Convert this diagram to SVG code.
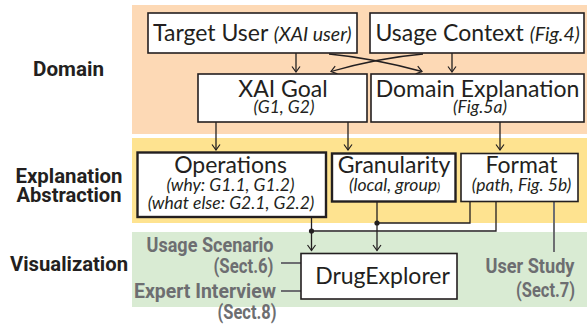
<svg xmlns="http://www.w3.org/2000/svg" width="587" height="324" viewBox="0 0 587 324">
  <defs>
    <marker id="vhead" viewBox="-7 -5 8 10" markerWidth="8" markerHeight="10" refX="0" refY="0" orient="auto" markerUnits="userSpaceOnUse">
      <path d="M-5.5,-4 L0,0 L-5.5,4" fill="none" stroke="#231f20" stroke-width="1.2"/>
    </marker>
  </defs>
  <style>
    .box { fill: #ffffff; stroke: #231f20; stroke-width: 1.6; }
    .box-thick { fill: #ffffff; stroke: #231f20; stroke-width: 2.4; }
    .t { font-family: Lato, "Open Sans", "Liberation Sans", sans-serif; font-size: 23px; fill: #231f20; text-anchor: middle; }
    .ti { font-family: Lato, "Open Sans", "Liberation Sans", sans-serif; font-style: italic; font-size: 17.5px; fill: #231f20; text-anchor: middle; }
    .layer { font-family: Roboto, "Liberation Sans", sans-serif; font-weight: bold; font-size: 20px; fill: #231f20; text-anchor: middle; }
    .eval { font-family: Roboto, "Liberation Sans", sans-serif; font-weight: bold; font-size: 20.5px; fill: #6d6e71; text-anchor: end; }
    .link { fill: none; stroke: #231f20; stroke-width: 1.3; }
    .arrow { fill: none; stroke: #231f20; stroke-width: 1.3; marker-end: url(#vhead); }
    .glink { fill: none; stroke: #6d6e71; stroke-width: 2; }
    .dot { fill: #231f20; }
    .gdot { fill: #6d6e71; }
  </style>

  <!-- layer bands -->
  <rect x="132" y="5" width="455" height="129" fill="#fdd9b5"/>
  <rect x="132" y="138" width="455" height="85" fill="#fee390"/>
  <rect x="132" y="232" width="455" height="75" fill="#d9ebd3"/>

  <!-- layer labels -->
  <text class="layer" x="68.5" y="75.5" textLength="71" lengthAdjust="spacingAndGlyphs">Domain</text>
  <text class="layer" x="69" y="183" textLength="107" lengthAdjust="spacingAndGlyphs">Explanation</text>
  <text class="layer" x="69" y="202" textLength="105" lengthAdjust="spacingAndGlyphs">Abstraction</text>
  <text class="layer" x="69" y="271" textLength="118" lengthAdjust="spacingAndGlyphs">Visualization</text>

  <!-- connectors -->
  <g id="connectors">
    <path class="arrow" d="M296,53 V72"/>
    <path class="arrow" d="M452,53 V72"/>
    <path class="arrow" d="M329,54 Q372,58 422,71.5"/>
    <path class="arrow" d="M423,54 Q378,58 331,71.5"/>
    <path class="arrow" d="M216,122 V150"/>
    <path class="arrow" d="M348,122 V150"/>
    <path class="arrow" d="M500,122 V150"/>
    <path class="arrow" d="M311.5,217 V250.5"/>
    <path class="arrow" d="M377,202 V250.5"/>
    <path class="link" d="M470,202 V223 H377"/>
    <path class="link" d="M496,202 V231 H311.5"/>
    <circle class="dot" cx="377" cy="223" r="2.6"/>
    <circle class="dot" cx="311.5" cy="231" r="2.6"/>
    <path class="glink" d="M554,197 V252"/>
    <circle class="gdot" cx="554" cy="197" r="2.6"/>
    <path class="glink" d="M281,263 H311"/>
    <circle class="gdot" cx="311" cy="263" r="2.6"/>
    <path class="glink" d="M281,291 H311"/>
    <circle class="gdot" cx="311" cy="291" r="2.6"/>
  </g>

  <!-- domain layer -->
  <g id="target-user">
    <rect class="box" x="148" y="13" width="209" height="40"/>
    <text x="153" y="40.5" font-family="Lato, 'Open Sans', 'Liberation Sans', sans-serif" fill="#231f20"><tspan font-size="23">Target User </tspan><tspan font-size="19.5" font-style="italic">(XAI user)</tspan></text>
  </g>
  <g id="usage-context">
    <rect class="box" x="370" y="13" width="214" height="40"/>
    <text x="375.5" y="40.5" font-family="Lato, 'Open Sans', 'Liberation Sans', sans-serif" fill="#231f20"><tspan font-size="23">Usage Context </tspan><tspan font-size="19.5" font-style="italic">(Fig.4)</tspan></text>
  </g>
  <g id="xai-goal">
    <rect class="box" x="198" y="74" width="169" height="48"/>
    <text class="t" x="283" y="97">XAI Goal</text>
    <text class="ti" x="284" y="112.5" font-size="18">(G1, G2)</text>
  </g>
  <g id="domain-explanation">
    <rect class="box" x="371" y="74" width="213" height="48"/>
    <text class="t" x="477.5" y="97">Domain Explanation</text>
    <text class="ti" x="480" y="112.5" font-size="18">(Fig.5a)</text>
  </g>

  <!-- explanation abstraction layer -->
  <g id="operations">
    <rect class="box-thick" x="137.5" y="152.5" width="188.5" height="64.5"/>
    <text class="t" x="230.5" y="172.7">Operations</text>
    <text class="ti" x="230.5" y="191">(why: G1.1, G1.2)</text>
    <text class="ti" x="231" y="209.3">(what else: G2.1, G2.2)</text>
  </g>
  <g id="granularity">
    <rect class="box-thick" x="332" y="153.5" width="123.5" height="48"/>
    <text class="t" x="394" y="172.7">Granularity</text>
    <text class="ti" x="394.5" y="191">(local, group<tspan font-size="12">)</tspan></text>
  </g>
  <g id="format">
    <rect class="box" x="461" y="153.5" width="117" height="48"/>
    <text class="t" x="521.5" y="172.7">Format</text>
    <text class="ti" x="521.5" y="191">(path, Fig. 5b)</text>
  </g>

  <!-- visualization layer -->
  <g id="drugexplorer">
    <rect class="box" x="301" y="253.5" width="156" height="45.5"/>
    <text class="t" x="382.5" y="284">DrugExplorer</text>
  </g>

  <!-- evaluation labels -->
  <g id="usage-scenario">
    <text class="eval" x="273.5" y="251.5" textLength="127" lengthAdjust="spacingAndGlyphs">Usage Scenario</text>
    <text class="eval" x="273.5" y="272.5" textLength="60" lengthAdjust="spacingAndGlyphs">(Sect.6)</text>
  </g>
  <g id="expert-interview">
    <text class="eval" x="276" y="298" textLength="142" lengthAdjust="spacingAndGlyphs">Expert Interview</text>
    <text class="eval" x="276.5" y="318.5" textLength="59" lengthAdjust="spacingAndGlyphs">(Sect.8)</text>
  </g>
  <g id="user-study">
    <text class="eval" x="574.5" y="272.5" textLength="89" lengthAdjust="spacingAndGlyphs">User Study</text>
    <text class="eval" x="575" y="296.5" textLength="59" lengthAdjust="spacingAndGlyphs">(Sect.7)</text>
  </g>
</svg>
